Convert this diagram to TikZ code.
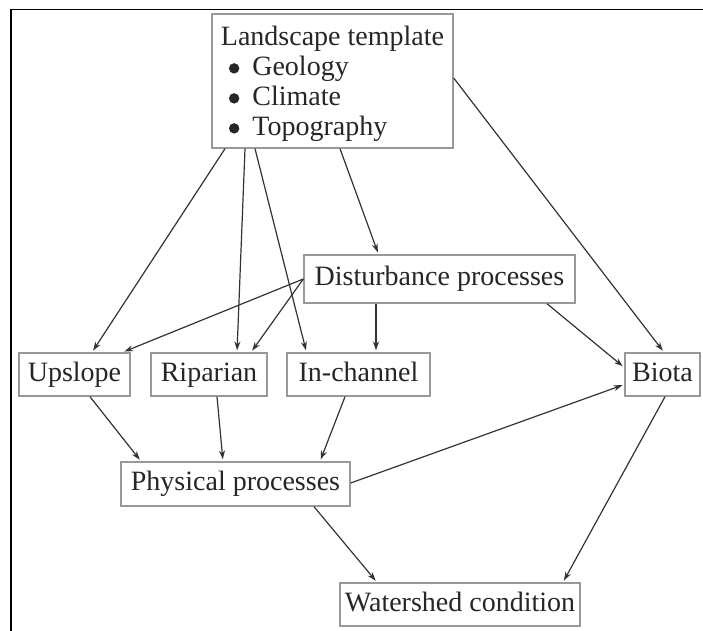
\documentclass[tikz,border=0pt]{standalone}
\usepackage{fontspec}
\setmainfont{Liberation Serif}
\usetikzlibrary{arrows.meta,calc}
\definecolor{txt}{HTML}{262626}
\definecolor{boxline}{HTML}{999999}
\definecolor{arrline}{HTML}{333333}
\newcommand\mybul{\tikz[baseline={(0pt,-3.6pt)}]\fill[txt] (0pt,0pt) circle[radius=2.6pt];}
\begin{document}
\begin{tikzpicture}[x=0.5pt,y=-0.5pt,
  box/.style={draw=boxline,line width=0.7pt,inner sep=0pt,text=txt,
    font=\fontsize{14pt}{15pt}\selectfont,minimum height=21.5pt},
  one/.style={text height=9.6pt,text depth=2.9pt},
  conn/.style={draw=arrline,line width=0.6pt,
    -{Stealth[length=4.4pt,width=3pt]},shorten >=1pt}]
\useasboundingbox (0,0) rectangle (703,631);
\draw[line width=0.9pt,black] (11,631) -- (11,9.5) -- (703,9.5);

\node[box,minimum width=120.5pt,minimum height=67pt,align=left] (land) at (332.5,81)
  {\rule{0pt}{12.6pt}Landscape template\\
   \hspace*{4pt}\mybul\hspace{6.5pt}Geology\\
   \hspace*{4pt}\mybul\hspace{6.5pt}Climate\\
   \hspace*{4pt}\mybul\hspace{6.5pt}Topography};
\node[box,one,minimum width=135.5pt,minimum height=24pt] (dist) at (439.5,279) {Disturbance processes};
\node[box,one,minimum width=55.5pt] (ups) at (74.5,374.5) {Upslope};
\node[box,one,minimum width=58pt] (rip) at (209,374.5) {Riparian};
\node[box,one,minimum width=71.5pt] (inch) at (358.5,374.5) {In-channel};
\node[box,one,minimum width=37.5pt] (biota) at (662.5,374.5) {Biota};
\node[box,one,minimum width=114.5pt,minimum height=22pt] (phys) at (235.5,484) {Physical processes};
\node[box,one,minimum width=120pt] (ws) at (460,604.5) {Watershed condition};

\draw[conn] ($(land.south)+(-107.5,0)$) -- ($(ups.north)+(17.5,0)$);
\draw[conn] ($(land.south)+(-87.5,0)$) -- ($(rip.north)+(28,0)$);
\draw[conn] ($(land.south)+(-77.5,0)$) -- ($(inch.north)+(-52,0)$);
\draw[conn] ($(land.south)+(7.5,0)$) -- ($(dist.north)+(-61,0)$);
\draw[conn] ($(land.east)+(0,-3)$) -- ($(biota.north)+(1.5,0)$);
\draw[conn] (dist.west) -- ($(ups.north)+(48,0)$);
\draw[conn] (dist.west) -- ($(rip.north)+(42,0)$);
\draw[conn] ($(dist.south)+(-63.5,0)$) -- ($(inch.north)+(17.5,0)$);
\draw[conn] ($(dist.south)+(107.5,0)$) -- ($(biota.west)+(0,-7)$);
\draw[conn] ($(ups.south)+(15.5,0)$) -- ($(phys.north)+(-94.5,0)$);
\draw[conn] ($(rip.south)+(8,0)$) -- ($(phys.north)+(-12.5,0)$);
\draw[conn] ($(inch.south)+(-13.5,0)$) -- ($(phys.north)+(84.5,0)$);
\draw[conn] ($(phys.east)+(0,-1)$) -- ($(biota.west)+(0,10)$);
\draw[conn] ($(phys.south)+(78.5,0)$) -- ($(ws.north)+(-83,0)$);
\draw[conn] ($(biota.south)+(2.5,0)$) -- ($(ws.north)+(103,0)$);
\end{tikzpicture}
\end{document}
